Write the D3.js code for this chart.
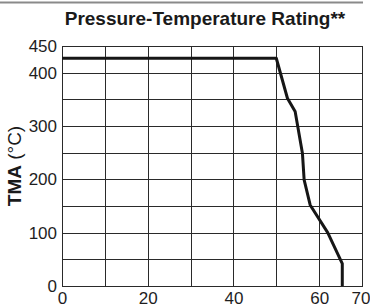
<!DOCTYPE html>
<html><head><meta charset="utf-8">
<script src="https://cdn.jsdelivr.net/npm/d3@7"></script>
<style>
body{margin:0;background:#fff;}
svg{display:block;font-family:"Liberation Sans",Arial,Helvetica,sans-serif;}
</style></head>
<body><svg id="c" width="370" height="307"></svg>
<script>
const title = "Pressure-Temperature Rating**";
const yTitleBold = "TMA";
const yTitleRest = " (°C)";
const xValues = [0, 50, 52.6, 54.4, 56.1, 56.5, 57.9, 62, 65.4, 65.4];
const yValues = [427, 427, 352, 327, 249, 199, 152, 100, 42, 0];
const xTickLabels = [0, 20, 40, 60, 70];
const yTickLabels = [0, 100, 200, 300, 400, 450];
const xGrid = [0, 10, 20, 30, 40, 50, 60, 70];
const yGrid = [0, 50, 100, 150, 200, 250, 300, 350, 400, 450];

const svg = d3.select("#c");
const L = 62, R = 362, T = 46, B = 286;
const x = d3.scaleLinear().domain([0, 70]).range([L, R]);
const y = d3.scaleLinear().domain([0, 450]).range([B, T]);

// top rule
svg.append("line").attr("x1", 0).attr("x2", 363).attr("y1", 2.5).attr("y2", 2.5)
  .attr("stroke", "#8a8a8a").attr("stroke-width", 2);

// gridlines
const gx = svg.append("g").attr("transform", `translate(0,${B})`)
  .call(d3.axisBottom(x).tickValues(xGrid).tickSize(-(B - T)).tickFormat(""));
const gy = svg.append("g").attr("transform", `translate(${L},0)`)
  .call(d3.axisLeft(y).tickValues(yGrid).tickSize(-(R - L)).tickFormat(""));
[gx, gy].forEach(g => {
  g.select(".domain").remove();
  g.selectAll("line").attr("stroke", "#2a2a2a").attr("stroke-width", 1).attr("shape-rendering", "crispEdges");
});
// frame
svg.append("rect").attr("x", L).attr("y", T).attr("width", R - L).attr("height", B - T)
  .attr("fill", "none").attr("stroke", "#2a2a2a").attr("stroke-width", 1).attr("shape-rendering", "crispEdges");

// tick labels
const ax = svg.append("g").attr("transform", `translate(0,${B})`)
  .call(d3.axisBottom(x).tickValues(xTickLabels).tickSize(0).tickPadding(6));
const ay = svg.append("g").attr("transform", `translate(${L},0)`)
  .call(d3.axisLeft(y).tickValues(yTickLabels).tickSize(0).tickPadding(5));
[ax, ay].forEach(g => {
  g.select(".domain").remove();
  g.selectAll("text").attr("fill", "#1e1e1e").style("font-size", "17px")
    .style("font-family", '"Liberation Sans",Arial,sans-serif');
});
ax.selectAll("text").filter(d => d === 70).attr("dx", "-1.5");

// line
const pts = xValues.map((v, i) => [v, yValues[i]]);
svg.append("path").datum(pts)
  .attr("d", d3.line().x(d => x(d[0])).y(d => y(d[1])))
  .attr("fill", "none").attr("stroke", "#161616").attr("stroke-width", 3)
  .attr("stroke-linejoin", "round");

// title
svg.append("text").attr("x", 205).attr("y", 25).attr("text-anchor", "middle")
  .style("font-size", "19px").style("font-weight", "bold").attr("fill", "#1a1a1a")
  .text(title);

// y title
const yt = svg.append("text").attr("transform", `translate(21,166) rotate(-90)`)
  .attr("text-anchor", "middle").style("font-size", "19px").attr("fill", "#1a1a1a");
yt.append("tspan").style("font-weight", "bold").text(yTitleBold);
yt.append("tspan").text(yTitleRest);
</script></body></html>
